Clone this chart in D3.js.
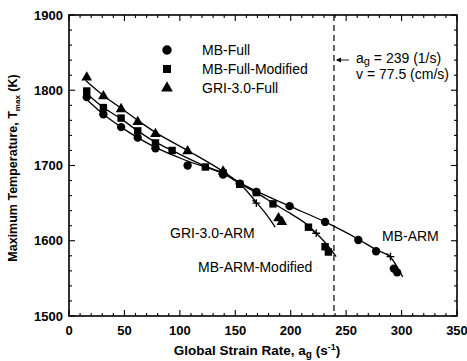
<!DOCTYPE html>
<html>
<head>
<meta charset="utf-8">
<script src="https://cdn.jsdelivr.net/npm/d3@7"></script>
<style>
  body { margin: 0; background: #fff; }
  svg { display: block; font-family: "Liberation Sans", Arial, sans-serif; }
</style>
</head>
<body>
<svg id="chart" width="467" height="361"></svg>
<script>
// full-mechanism symbols
const mbFullA = [16, 31, 47, 62, 78, 107, 139, 154, 169, 199, 231, 261, 277, 293, 296];
const mbFullT = [1791, 1768, 1751, 1737, 1723, 1700, 1688, 1676, 1665, 1646, 1625, 1601, 1586, 1563, 1558];

const mbModA = [16, 31, 47, 62, 78, 93, 123, 139, 154, 169, 184, 216, 231, 234];
const mbModT = [1799, 1777, 1763, 1746, 1730, 1720, 1698, 1690, 1675, 1664, 1649, 1618, 1592, 1585];

const griFullA = [16, 31, 47, 62, 78, 107, 139, 189, 192];
const griFullT = [1817, 1792, 1775, 1758, 1742, 1719, 1692, 1630, 1625];

// ARM curves
const griArmA = [15, 31, 47, 62, 78, 107, 139, 154, 169, 178, 186];
const griArmT = [1813, 1793, 1776, 1760, 1744, 1720, 1692, 1676, 1651, 1635, 1618];

const mbModArmA = [15, 31, 47, 62, 78, 93, 123, 139, 154, 169, 184, 200, 216, 223, 232, 241];
const mbModArmT = [1797, 1777, 1762, 1746, 1731, 1720, 1699, 1690, 1676, 1664, 1650, 1636, 1620, 1610, 1596, 1579];

const mbArmA = [15, 31, 47, 62, 78, 107, 139, 154, 169, 199, 231, 261, 277, 290, 301];
const mbArmT = [1789, 1768, 1751, 1737, 1724, 1706, 1689, 1677, 1666, 1646, 1625, 1602, 1588, 1578, 1552];

// extinction marks on ARM curves
const markA = [169, 223, 290];
const markT = [1650, 1610, 1579];

const xTicks = [0, 50, 100, 150, 200, 250, 300, 350];
const yTicks = [1500, 1600, 1700, 1800, 1900];
const critA = 239;

const zip = (a, t) => a.map((v, i) => ({ a: v, t: t[i] }));

const svg = d3.select('#chart');
const padL = 69, padR = 457, padT = 15, padB = 316;

const x = d3.scaleLinear().domain([0, 350]).range([padL, padR]);
const y = d3.scaleLinear().domain([1500, 1900]).range([padB, padT]);

// ticks (inward, all four sides)
const minorX = d3.range(0, 351, 10), minorY = d3.range(1500, 1901, 20);
const tk = svg.append('g').attr('stroke', '#000').attr('stroke-width', 1.1);
minorX.forEach(v => {
  const len = v % 50 === 0 ? 6 : 3;
  tk.append('line').attr('x1', x(v)).attr('x2', x(v)).attr('y1', padB).attr('y2', padB - len);
  tk.append('line').attr('x1', x(v)).attr('x2', x(v)).attr('y1', padT).attr('y2', padT + len);
});
minorY.forEach(v => {
  const len = v % 100 === 0 ? 6 : 3;
  tk.append('line').attr('y1', y(v)).attr('y2', y(v)).attr('x1', padL).attr('x2', padL + len);
  tk.append('line').attr('y1', y(v)).attr('y2', y(v)).attr('x1', padR).attr('x2', padR - len);
});

svg.append('rect')
  .attr('x', padL).attr('y', padT)
  .attr('width', padR - padL).attr('height', padB - padT)
  .attr('fill', 'none').attr('stroke', '#000').attr('stroke-width', 1.6);

// tick labels
svg.append('g').selectAll('text').data(xTicks).enter().append('text')
  .attr('x', d => x(d)).attr('y', padB + 19)
  .attr('text-anchor', 'middle').attr('font-size', 13).attr('font-weight', 'bold')
  .text(d => d);
svg.append('g').selectAll('text').data(yTicks).enter().append('text')
  .attr('x', padL - 6).attr('y', d => y(d) + 4.5)
  .attr('text-anchor', 'end').attr('font-size', 13).attr('font-weight', 'bold')
  .text(d => d);

// axis titles
const xt = svg.append('text').attr('x', 257).attr('y', 355)
  .attr('text-anchor', 'middle').attr('font-size', 13.5).attr('font-weight', 'bold');
xt.append('tspan').text('Global Strain Rate, a');
xt.append('tspan').attr('font-size', 10).attr('dy', 3).text('g');
xt.append('tspan').attr('dy', -3).text(' (s');
xt.append('tspan').attr('font-size', 9).attr('dy', -5).text('-1');
xt.append('tspan').attr('dy', 5).text(')');

const yt = svg.append('text').attr('transform', 'translate(17,' + 168 + ') rotate(-90)')
  .attr('text-anchor', 'middle').attr('font-size', 12.5).attr('font-weight', 'bold');
yt.append('tspan').text('Maximum Temperature, T');
yt.append('tspan').attr('font-size', 8).attr('dy', 3).text('max');
yt.append('tspan').attr('dy', -3).text(' (K)');

// critical strain rate
svg.append('line')
  .attr('x1', x(critA)).attr('x2', x(critA)).attr('y1', padT).attr('y2', padB)
  .attr('stroke', '#000').attr('stroke-width', 1.2).attr('stroke-dasharray', '6,4');

svg.append('line')
  .attr('x1', x(critA) + 15).attr('x2', x(critA) + 3).attr('y1', 60).attr('y2', 60)
  .attr('stroke', '#000').attr('stroke-width', 0.9);
svg.append('path')
  .attr('d', d3.line()([[x(critA) + 2, 60], [x(critA) + 7, 57.5], [x(critA) + 7, 62.5]]) + 'Z')
  .attr('fill', '#000');

const an = svg.append('text').attr('x', 356).attr('y', 63).attr('font-size', 14);
an.append('tspan').text('a');
an.append('tspan').attr('font-size', 11).attr('dy', 2).text('g');
an.append('tspan').attr('dy', -2).text(' = 239 (1/s)');
svg.append('text').attr('x', 356).attr('y', 79).attr('font-size', 14).text('v = 77.5 (cm/s)');

// curves
const line = d3.line().x(d => x(d.a)).y(d => y(d.t)).curve(d3.curveMonotoneX);
[zip(griArmA, griArmT), zip(mbModArmA, mbModArmT), zip(mbArmA, mbArmT)].forEach(s => {
  svg.append('path').datum(s).attr('d', line)
    .attr('fill', 'none').attr('stroke', '#000').attr('stroke-width', 1.3);
});

// symbols
const sym = (type, size) => d3.symbol().type(type).size(size);
const addPts = (data, type, size) => {
  svg.append('g').selectAll('path').data(data).enter().append('path')
    .attr('transform', d => 'translate(' + x(d.a) + ',' + y(d.t) + ')')
    .attr('d', sym(type, size)).attr('fill', '#000');
};
addPts(zip(mbFullA, mbFullT), d3.symbolCircle, 55);
addPts(zip(mbModA, mbModT), d3.symbolSquare, 55);
addPts(zip(griFullA, griFullT), d3.symbolTriangle, 50);

// extinction marks
const tickMark = {
  draw(ctx, size) {
    const r = Math.sqrt(size) / 2;
    ctx.moveTo(-r, 0); ctx.lineTo(r, 0);
    ctx.moveTo(0, -r); ctx.lineTo(0, r);
    ctx.moveTo(-r, -r * 0.8); ctx.lineTo(0, 0);
  }
};
svg.append('g').selectAll('path').data(zip(markA, markT)).enter().append('path')
  .attr('transform', d => 'translate(' + x(d.a) + ',' + y(d.t) + ')')
  .attr('d', d3.symbol().type(tickMark).size(60))
  .attr('stroke', '#000').attr('stroke-width', 1.3).attr('fill', 'none');

// legend
const legend = [
  { label: 'MB-Full', type: d3.symbolCircle, size: 70 },
  { label: 'MB-Full-Modified', type: d3.symbolSquare, size: 65 },
  { label: 'GRI-3.0-Full', type: d3.symbolTriangle, size: 60 }
];
const lg = svg.append('g');
legend.forEach((d, i) => {
  const ly = 50 + i * 19;
  lg.append('path').attr('transform', 'translate(167,' + ly + ')')
    .attr('d', sym(d.type, d.size)).attr('fill', '#000');
  lg.append('text').attr('x', 202).attr('y', ly + 5)
    .attr('font-size', 14).text(d.label);
});

// curve labels
const labels = [
  { text: 'GRI-3.0-ARM', x: 170, y: 238 },
  { text: 'MB-ARM-Modified', x: 198, y: 272 },
  { text: 'MB-ARM', x: 382, y: 241 }
];
svg.append('g').selectAll('text').data(labels).enter().append('text')
  .attr('x', d => d.x).attr('y', d => d.y).attr('font-size', 14).text(d => d.text);
</script>
</body>
</html>
